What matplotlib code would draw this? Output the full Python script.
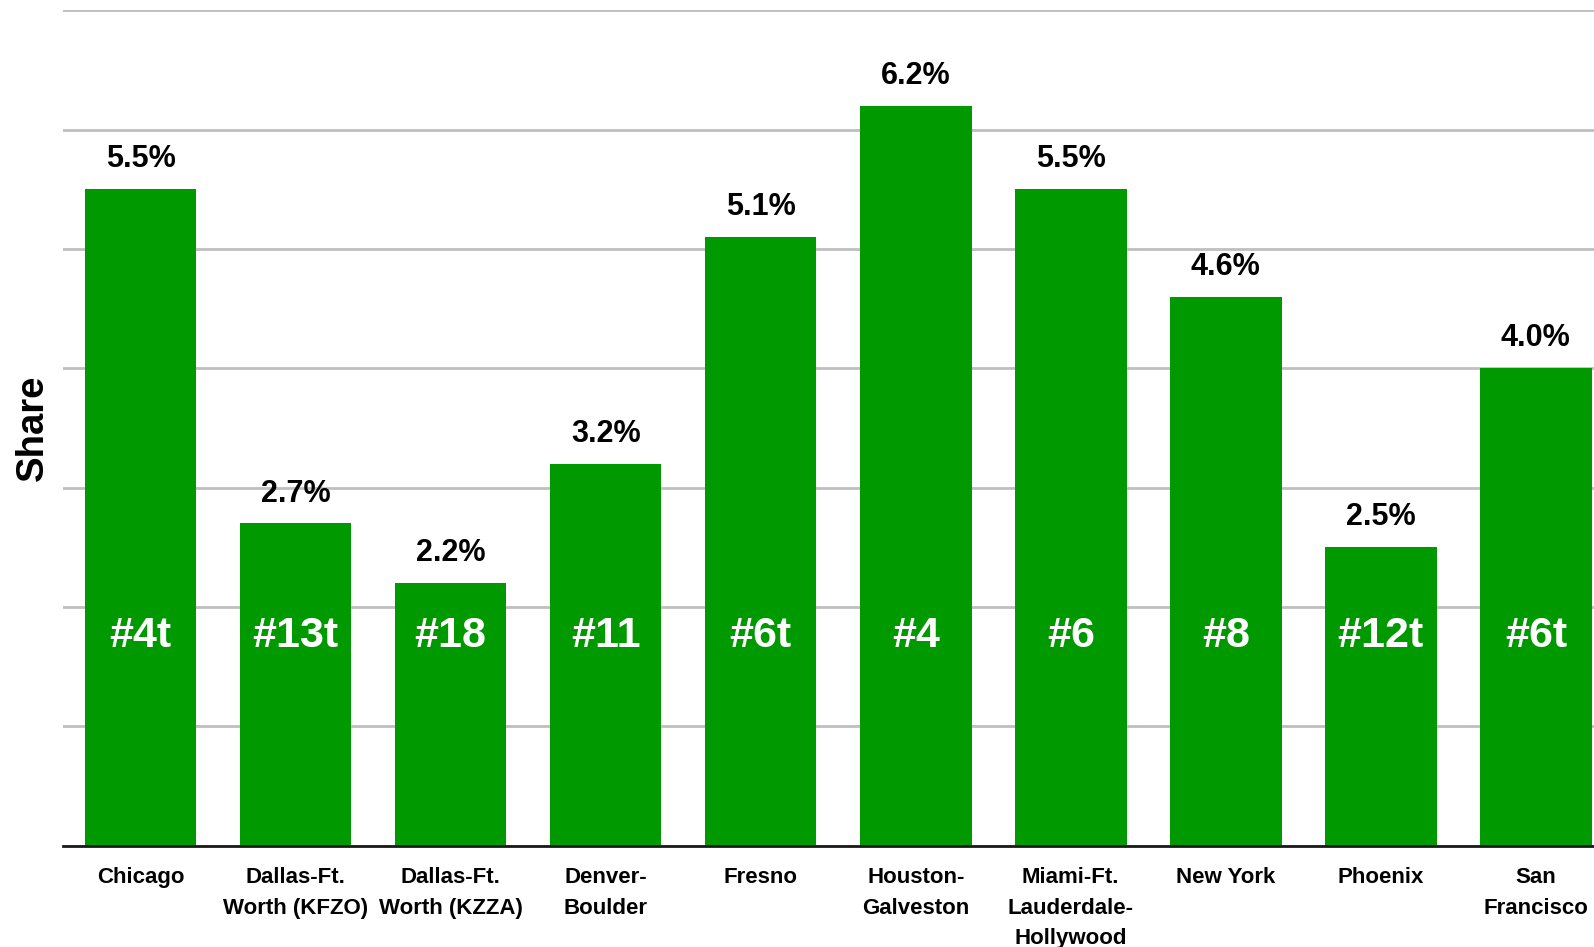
import matplotlib
matplotlib.use("Agg")
import matplotlib.pyplot as plt

# Market data: share and rank for each market
markets = ["Chicago", "Dallas-Ft.\nWorth (KFZO)", "Dallas-Ft.\nWorth (KZZA)",
           "Denver-\nBoulder", "Fresno", "Houston-\nGalveston",
           "Miami-Ft.\nLauderdale-\nHollywood", "New York", "Phoenix",
           "San\nFrancisco"]
share = [5.5, 2.7, 2.2, 3.2, 5.1, 6.2, 5.5, 4.6, 2.5, 4.0]
ranks = ["#4t", "#13t", "#18", "#11", "#6t", "#4", "#6", "#8", "#12t", "#6t"]

BAR_COLOR = "#009900"
FONT = ["Liberation Sans", "DejaVu Sans"]

plt.rcParams["font.family"] = FONT

fig = plt.figure(figsize=(15.94, 9.47), dpi=100)
ax = fig.add_axes([0.0395, 0.1069, 0.9605, 0.8823])

x = list(range(len(markets)))
ax.bar(x, share, width=0.72, color=BAR_COLOR, zorder=3)

ax.set_ylim(0, 7)
ax.set_xlim(-0.5, 9.375)
ax.set_yticks(range(0, 8))
ax.yaxis.grid(True, color="#bfbfbf", linewidth=2, zorder=0)
ax.tick_params(axis="y", length=0, labelleft=False)
ax.tick_params(axis="x", length=0, pad=15.5)

for side in ("top", "right", "left"):
    ax.spines[side].set_visible(False)
ax.spines["bottom"].set_color("#1a1a1a")
ax.spines["bottom"].set_linewidth(2)
ax.spines["bottom"].set_zorder(4)

ax.set_xticks(x)
ax.set_xticklabels(markets, fontsize=16, fontweight="bold", linespacing=1.58)

# Value labels above the bars
for xi, v in zip(x, share):
    ax.annotate(f"{v:.1f}%", xy=(xi, v), xytext=(0, 15.8), textcoords="offset points",
                ha="center", va="baseline", fontsize=22, fontweight="bold",
                color="black", zorder=5)

# Rank labels inside the bars
for xi, r in zip(x, ranks):
    ax.text(xi, 1.665, r, ha="center", va="baseline", fontsize=31,
            fontweight="bold", color="white", zorder=5)

ax.set_ylabel("Share", fontsize=27.5, fontweight="bold")
ax.yaxis.set_label_coords(-0.008, 0.5)

fig.savefig("out.png", dpi=100, facecolor="white")
